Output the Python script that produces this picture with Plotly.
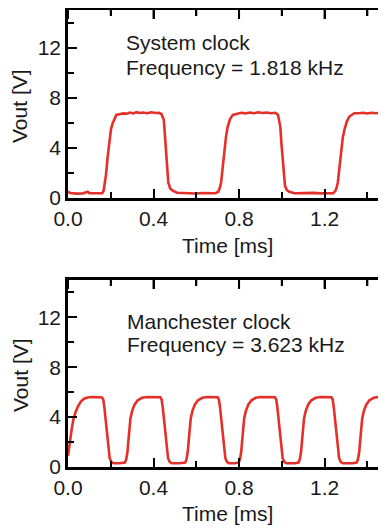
import plotly.graph_objects as go

# ---- data ----
sys_t = [0.000, 0.010, 0.040, 0.070, 0.085, 0.092, 0.100, 0.130, 0.160, 0.167, 0.172,
         0.178, 0.185, 0.193, 0.201, 0.209, 0.217, 0.226, 0.245, 0.260, 0.275, 0.290,
         0.305, 0.320, 0.335, 0.350, 0.370, 0.390, 0.410, 0.425, 0.437, 0.448, 0.453,
         0.458, 0.463, 0.469, 0.478, 0.490, 0.510, 0.540, 0.570, 0.600, 0.630, 0.660,
         0.690, 0.703, 0.709, 0.716, 0.723, 0.731, 0.739, 0.747, 0.758, 0.771, 0.790,
         0.810, 0.830, 0.850, 0.870, 0.890, 0.910, 0.930, 0.950, 0.970, 0.982, 0.993,
         0.998, 1.004, 1.010, 1.015, 1.024, 1.035, 1.060, 1.090, 1.120, 1.150, 1.180,
         1.210, 1.240, 1.250, 1.256, 1.262, 1.270, 1.277, 1.285, 1.293, 1.304, 1.316,
         1.339, 1.360, 1.380, 1.400, 1.420, 1.440, 1.460, 1.480, 1.500]
sys_v = [0.50, 0.40, 0.35, 0.37, 0.45, 0.50, 0.38, 0.36, 0.38, 0.60, 1.10,
         1.90, 3.20, 4.66, 5.50, 5.97, 6.35, 6.63, 6.70, 6.75, 6.72, 6.82,
         6.75, 6.85, 6.78, 6.82, 6.76, 6.84, 6.78, 6.80, 6.70, 6.24, 5.10,
         3.87, 2.40, 1.24, 0.75, 0.58, 0.42, 0.38, 0.40, 0.36, 0.40, 0.37,
         0.38, 0.50, 0.75, 1.24, 2.50, 3.87, 4.90, 5.70, 6.30, 6.63, 6.72,
         6.80, 6.75, 6.82, 6.76, 6.84, 6.78, 6.82, 6.76, 6.80, 6.65, 5.70,
         4.40, 3.08, 1.90, 0.97, 0.62, 0.50, 0.38, 0.40, 0.36, 0.41, 0.37,
         0.40, 0.38, 0.55, 0.80, 1.24, 2.60, 3.87, 4.80, 5.45, 6.10, 6.50,
         6.76, 6.76, 6.80, 6.74, 6.80, 6.76, 6.80, 6.77, 6.78]

man_t = [0.000, 0.005, 0.010, 0.017, 0.025, 0.035, 0.048, 0.060, 0.075, 0.095, 0.120, 0.145,
         0.159, 0.165, 0.170, 0.181, 0.189, 0.195, 0.203, 0.213, 0.240,
         0.266, 0.272, 0.278, 0.282, 0.286, 0.292, 0.300, 0.311, 0.326, 0.346, 0.371, 0.400, 0.425,
         0.432, 0.438, 0.443, 0.454, 0.462, 0.468, 0.476, 0.486, 0.520, 0.540,
         0.548, 0.554, 0.560, 0.564, 0.568, 0.574, 0.582, 0.593, 0.608, 0.628, 0.653, 0.680, 0.695,
         0.700, 0.706, 0.711, 0.722, 0.730, 0.736, 0.744, 0.754, 0.780, 0.796,
         0.798, 0.804, 0.810, 0.814, 0.818, 0.824, 0.832, 0.843, 0.858, 0.878, 0.903, 0.935, 0.963,
         0.968, 0.974, 0.979, 0.990, 0.998, 1.004, 1.012, 1.022, 1.060, 1.076,
         1.078, 1.084, 1.090, 1.094, 1.098, 1.104, 1.112, 1.123, 1.138, 1.158, 1.183, 1.210, 1.230,
         1.232, 1.238, 1.243, 1.254, 1.262, 1.268, 1.276, 1.286, 1.330, 1.348,
         1.350, 1.356, 1.362, 1.366, 1.370, 1.376, 1.384, 1.395, 1.410, 1.430, 1.455, 1.480, 1.500]
man_v = [0.90, 1.60, 2.20, 3.00, 3.80, 4.40, 4.90, 5.25, 5.48, 5.60, 5.62, 5.60,
         5.58, 5.40, 4.80, 3.00, 1.40, 0.70, 0.40, 0.30, 0.30,
         0.35, 0.60, 1.20, 2.00, 3.00, 3.90, 4.50, 5.00, 5.35, 5.55, 5.62, 5.63, 5.62,
         5.60, 5.40, 4.80, 3.00, 1.40, 0.70, 0.40, 0.30, 0.30, 0.32,
         0.35, 0.60, 1.20, 2.00, 3.00, 3.90, 4.50, 5.00, 5.35, 5.55, 5.62, 5.63, 5.62,
         5.60, 5.40, 4.80, 3.00, 1.40, 0.70, 0.40, 0.30, 0.30, 0.32,
         0.35, 0.60, 1.20, 2.00, 3.00, 3.90, 4.50, 5.00, 5.35, 5.55, 5.62, 5.63, 5.62,
         5.60, 5.40, 4.80, 3.00, 1.40, 0.70, 0.40, 0.30, 0.30, 0.32,
         0.35, 0.60, 1.20, 2.00, 3.00, 3.90, 4.50, 5.00, 5.35, 5.55, 5.62, 5.63, 5.62,
         5.60, 5.40, 4.80, 3.00, 1.40, 0.70, 0.40, 0.30, 0.30, 0.33,
         0.35, 0.60, 1.20, 2.00, 3.00, 3.90, 4.50, 5.00, 5.35, 5.55, 5.62, 5.63, 5.62]

x_tickvals = [0.0, 0.4, 0.8, 1.2]
x_ticktext = ["0.0", "0.4", "0.8", "1.2"]
x_minorvals = [0.2, 0.6, 1.0, 1.4]
y_tickvals = [0, 4, 8, 12]
y_ticktext = ["0", "4", "8", "12"]
y_minorvals = [2, 6, 10, 14]

x_title = "Time [ms]"
y_title = "Vout [V]"
top_labels = ["System clock", "Frequency = 1.818 kHz"]
bot_labels = ["Manchester clock", "Frequency = 3.623 kHz"]

X_RANGE = [0, 1.492]
Y_RANGE = [0, 15]
FONT = "Liberation Sans, Arial, sans-serif"
TXT = "#1a1a1a"
RED = "#e5302a"
FS = 21
LW = 2.6
MAJ, MIN = 9, 6

# page body has an 8px default margin: the figure is offset by (8, 8).
OFF = 8
W, H = 379, 520
ML, MT = 60, 2
PLOT_BOTTOM = 467          # page px of the lower plot's bottom edge
MB = H - (PLOT_BOTTOM - OFF)
PH = H - MT - MB
PW = W - ML

fig = go.Figure()
fig.add_trace(go.Scatter(x=sys_t, y=sys_v, mode="lines", xaxis="x", yaxis="y",
                         line=dict(color=RED, width=LW), hoverinfo="skip", showlegend=False))
fig.add_trace(go.Scatter(x=man_t, y=man_v, mode="lines", xaxis="x2", yaxis="y2",
                         line=dict(color=RED, width=LW), hoverinfo="skip", showlegend=False))

def xax(anchor):
    return dict(range=X_RANGE, anchor=anchor, domain=[0, 1], showgrid=False, zeroline=False,
                showline=True, mirror="ticks", linecolor="black", linewidth=LW,
                ticks="inside", ticklen=MAJ, tickwidth=2, tickcolor="black",
                tickmode="array", tickvals=x_tickvals, ticktext=x_ticktext,
                tickfont=dict(family=FONT, size=FS, color=TXT),
                minor=dict(tickmode="array", tickvals=x_minorvals, ticks="inside",
                           ticklen=MIN, tickwidth=2, tickcolor="black"),
                automargin=False, fixedrange=True)

def yax(anchor, domain):
    return dict(range=Y_RANGE, anchor=anchor, domain=domain, showgrid=False, zeroline=False,
                showline=True, mirror="ticks", linecolor="black", linewidth=LW,
                ticks="inside", ticklen=MAJ, tickwidth=2, tickcolor="black",
                tickmode="array", tickvals=y_tickvals, ticktext=y_ticktext,
                tickfont=dict(family=FONT, size=FS, color=TXT),
                minor=dict(tickmode="array", tickvals=y_minorvals, ticks="inside",
                           ticklen=MIN, tickwidth=2, tickcolor="black"),
                automargin=False, fixedrange=True)

def dom(top_page, bot_page):
    top_px, bot_px = top_page - OFF, bot_page - OFF
    return [1 - (bot_px - MT) / PH, 1 - (top_px - MT) / PH]

top_dom = dom(10, 198)
bot_dom = dom(280, PLOT_BOTTOM)

fig.update_layout(
    width=W, height=H,
    margin=dict(l=ML, r=0, t=MT, b=MB, pad=0),
    paper_bgcolor="white", plot_bgcolor="white",
    font=dict(family=FONT, size=FS, color=TXT),
    xaxis=xax("y"),
    yaxis=yax("x", top_dom),
    xaxis2=xax("y2"),
    yaxis2=yax("x2", bot_dom),
    showlegend=False,
)

# explicit frame on the top and right sides (top border + inward ticks)
shapes = []
for xr, yr in (("x", "y"), ("x2", "y2")):
    shapes.append(dict(type="line", xref=xr + " domain", x0=0, x1=1,
                       yref=yr + " domain", ysizemode="pixel", yanchor=1, y0=1.3, y1=1.3,
                       line=dict(color="black", width=LW), layer="above"))
    for vals, ln in ((x_tickvals, MAJ), (x_minorvals, MIN)):
        for v in vals:
            shapes.append(dict(type="line", xref=xr, x0=v, x1=v,
                               yref=yr + " domain", ysizemode="pixel", yanchor=1, y0=0, y1=-ln,
                               line=dict(color="black", width=2), layer="above"))
    for vals, ln in ((y_tickvals, MAJ), (y_minorvals, MIN)):
        for v in vals:
            shapes.append(dict(type="line", yref=yr, y0=v, y1=v,
                               xref=xr + " domain", xsizemode="pixel", xanchor=1, x0=0, x1=-ln,
                               line=dict(color="black", width=2), layer="above"))
fig.update_layout(shapes=shapes)

def py_to_paper(py_page):
    return 1 - (py_page - OFF - MT) / PH

def px_to_paper(px_page):
    return (px_page - OFF - ML) / PW

ann = []
# axis titles
ann.append(dict(text=x_title, x=px_to_paper(227), xref="paper", y=py_to_paper(245), yref="paper",
                showarrow=False, xanchor="center", yanchor="middle",
                font=dict(family=FONT, size=FS, color=TXT)))
ann.append(dict(text=x_title, x=px_to_paper(227), xref="paper", y=py_to_paper(513), yref="paper",
                showarrow=False, xanchor="center", yanchor="middle",
                font=dict(family=FONT, size=FS, color=TXT)))
ann.append(dict(text=y_title, x=px_to_paper(20), xref="paper", y=py_to_paper(106), yref="paper",
                textangle=-90, showarrow=False, xanchor="center", yanchor="middle",
                font=dict(family=FONT, size=FS, color=TXT)))
ann.append(dict(text=y_title, x=px_to_paper(20), xref="paper", y=py_to_paper(375), yref="paper",
                textangle=-90, showarrow=False, xanchor="center", yanchor="middle",
                font=dict(family=FONT, size=FS, color=TXT)))
# in-plot labels
ann.append(dict(text=top_labels[0], x=0.262, xref="x", y=12.39, yref="y",
                showarrow=False, xanchor="left", yanchor="middle",
                font=dict(family=FONT, size=FS, color=TXT)))
ann.append(dict(text=top_labels[1], x=0.262, xref="x", y=10.45, yref="y",
                showarrow=False, xanchor="left", yanchor="middle",
                font=dict(family=FONT, size=FS, color=TXT)))
ann.append(dict(text=bot_labels[0], x=0.267, xref="x2", y=11.69, yref="y2",
                showarrow=False, xanchor="left", yanchor="middle",
                font=dict(family=FONT, size=FS, color=TXT)))
ann.append(dict(text=bot_labels[1], x=0.267, xref="x2", y=9.84, yref="y2",
                showarrow=False, xanchor="left", yanchor="middle",
                font=dict(family=FONT, size=FS, color=TXT)))
fig.update_layout(annotations=ann)

fig.write_html("out.html")
